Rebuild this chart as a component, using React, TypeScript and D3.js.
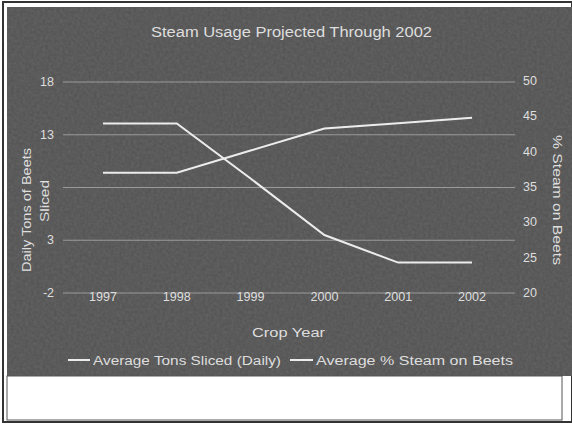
import React from "react";
import * as d3 from "d3";

const years = ["1997", "1998", "1999", "2000", "2001", "2002"];
const tonsSliced = [9.4, 9.4, 11.5, 13.6, 14.1, 14.6];
const steamPct = [44, 44, 36.2, 28.2, 24.3, 24.3];
const leftTicks = [-2, 3, 8, 13, 18];
const leftTickLabels = ["-2", "3", "", "13", "18"];
const rightTicks = [20, 25, 30, 35, 40, 45, 50];
const title = "Steam Usage Projected Through 2002";
const seriesNames = ["Average Tons Sliced (Daily)", "Average % Steam on Beets"];

const W = 572;
const H = 425;

export default function App() {
  const x = d3.scalePoint<string>().domain(years).range([103, 472]);
  const yL = d3.scaleLinear().domain([-2, 18]).range([293, 82]);
  const yR = d3.scaleLinear().domain([20, 50]).range([293, 81]);
  const lineL = d3
    .line<number>()
    .x((_, i) => x(years[i]) as number)
    .y((d) => yL(d));
  const lineR = d3
    .line<number>()
    .x((_, i) => x(years[i]) as number)
    .y((d) => yR(d));
  const font = "'Liberation Sans', Arial, sans-serif";
  const txt = "#dedede";
  const lineCol = "#ececec";
  const adj = "spacingAndGlyphs";
  return (
    <svg
      width={W}
      height={H}
      style={{ position: "fixed", left: 0, top: 0, background: "#fff" }}
      fontFamily={font}
    >
      <defs>
        <filter id="grain" x="0" y="0" width="100%" height="100%">
          <feTurbulence type="fractalNoise" baseFrequency="0.35" numOctaves="2" seed="3" result="n" />
          <feColorMatrix
            in="n"
            type="matrix"
            values="0 0 0 0 0.3  0 0 0 0 0.3  0 0 0 0 0.3  0.5 0 0 0 -0.1"
            result="g"
          />
          <feComposite in="g" in2="SourceGraphic" operator="in" />
        </filter>
      </defs>
      <rect x={3} y={2} width={569} height={420} fill="none" stroke="#333" strokeWidth={2} />
      <rect x={7} y={7} width={565} height={369} fill="#555555" />
      <rect x={7} y={7} width={565} height={369} fill="#555555" filter="url(#grain)" opacity={0.6} />
      <rect x={7} y={376} width={555} height={44} fill="#fff" stroke="#555" strokeWidth={1} />
      <text x={151} y={37} fill={txt} fontSize={14} textLength={281} lengthAdjust={adj}>
        {title}
      </text>
      {leftTicks.map((t, i) => (
        <g key={t}>
          <line x1={63} x2={515} y1={yL(t)} y2={yL(t)} stroke="#9a9a9a" strokeWidth={1.2} />
          <text x={54} y={yL(t) + 4} textAnchor="end" fill={txt} fontSize={12.5}>
            {leftTickLabels[i]}
          </text>
        </g>
      ))}
      {rightTicks.map((t) => (
        <text key={t} x={523} y={yR(t) + 4} textAnchor="start" fill={txt} fontSize={12.5}>
          {t}
        </text>
      ))}
      {years.map((yr) => (
        <text
          key={yr}
          x={(x(yr) as number) - 14}
          y={301}
          fill={txt}
          fontSize={12.5}
          textLength={28}
          lengthAdjust={adj}
        >
          {yr}
        </text>
      ))}
      <path d={lineL(tonsSliced) || ""} fill="none" stroke={lineCol} strokeWidth={2} />
      <path d={lineR(steamPct) || ""} fill="none" stroke={lineCol} strokeWidth={2} />
      <g transform="translate(31,272) rotate(-90)">
        <text fill={txt} fontSize={12} textLength={124} lengthAdjust={adj}>
          Daily Tons of Beets
        </text>
        <text x={50} y={18} fill={txt} fontSize={12} textLength={42} lengthAdjust={adj}>
          Sliced
        </text>
      </g>
      <text transform="translate(553,135) rotate(90)" fill={txt} fontSize={12.5} textLength={130} lengthAdjust={adj}>
        % Steam on Beets
      </text>
      <text x={252} y={337} fill={txt} fontSize={12.5} textLength={73} lengthAdjust={adj}>
        Crop Year
      </text>
      <line x1={68} x2={90} y1={360} y2={360} stroke={lineCol} strokeWidth={2} />
      <text x={93} y={365} fill={txt} fontSize={12.5} textLength={188} lengthAdjust={adj}>
        {seriesNames[0]}
      </text>
      <line x1={290} x2={313} y1={360} y2={360} stroke={lineCol} strokeWidth={2} />
      <text x={316} y={365} fill={txt} fontSize={12.5} textLength={197} lengthAdjust={adj}>
        {seriesNames[1]}
      </text>
    </svg>
  );
}
